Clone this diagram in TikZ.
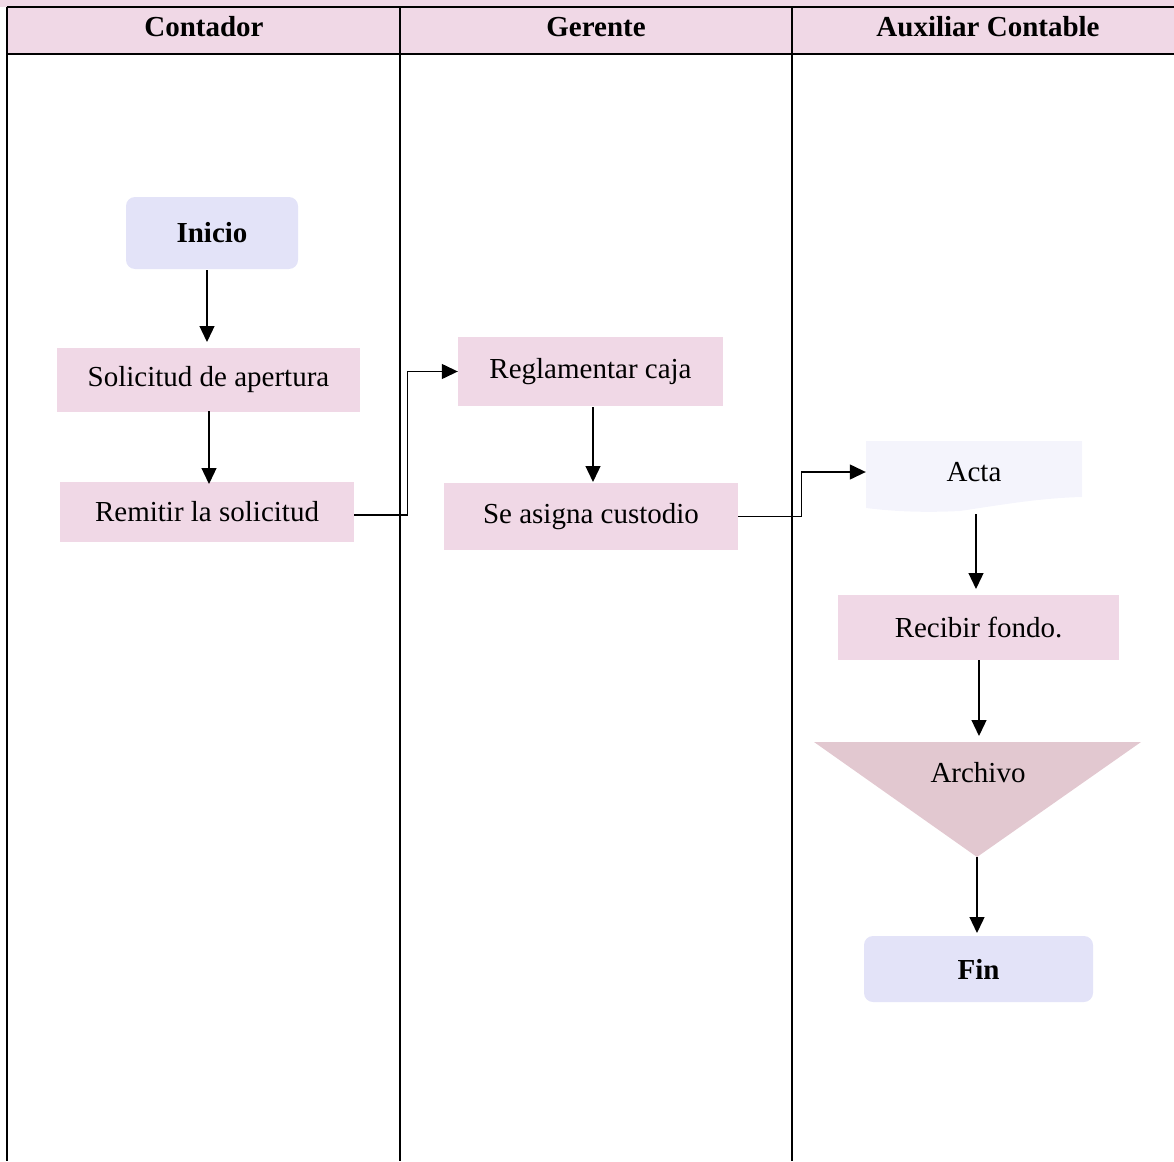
\documentclass[tikz,border=0pt]{standalone}
\usepackage{fontspec}
\setmainfont{Liberation Serif}
\usetikzlibrary{arrows.meta}
\definecolor{headpink}{RGB}{240,216,230}
\definecolor{boxpink}{RGB}{240,216,230}
\definecolor{termlav}{RGB}{227,227,248}
\definecolor{doclav}{RGB}{244,244,252}
\definecolor{storepink}{RGB}{226,200,208}
\tikzset{
  lane/.style={line width=2.6pt,black},
  flow/.style={line width=1.3pt,black,-{Triangle[length=16pt,width=15pt]}},
  procbox/.style={fill=boxpink,draw=none,inner sep=0pt,align=center},
  termbox/.style={fill=termlav,draw=none,rounded corners=9pt,inner sep=0pt,font=\bfseries},
  headtext/.style={font=\bfseries},
  plain/.style={inner sep=0pt}
}
\begin{document}
\fontsize{29}{34}\selectfont
\begin{tikzpicture}[x=1pt,y=-1pt]
\useasboundingbox (0,0) rectangle (1174,1161);
% header band
\fill[headpink] (0,0) rectangle (1174,7);
\fill[headpink] (7,7) rectangle (1174,54);
\node[headtext] (hcont) at (204,27) {Contador};
\node[headtext] (hger) at (596,27) {Gerente};
\node[headtext] (haux) at (988,27) {Auxiliar Contable};
% swimlane lines
\draw[lane] (7,7) -- (1174,7);
\draw[lane] (7,54) -- (1174,54);
\draw[lane] (7,7) -- (7,1161);
\draw[lane] (400,7) -- (400,1161);
\draw[lane] (792,7) -- (792,1161);

% Contador lane
\node[termbox,minimum width=172pt,minimum height=72pt] (inicio) at (212,233) {Inicio};
\node[procbox,minimum width=303pt,minimum height=64pt] (solicitud) at (208.5,380) {Solicitud de apertura};
\node[procbox,minimum width=294pt,minimum height=60pt] (remitir) at (207,512) {Remitir la solicitud};

% Gerente lane
\node[procbox,minimum width=265pt,minimum height=69pt] (reglamentar) at (590.5,371.5) {Reglamentar caja};
\node[procbox,minimum width=294pt,minimum height=67pt] (custodio) at (591,516.5) {Se asigna custodio};

% Auxiliar Contable lane: document shape
\fill[doclav] (866,441) -- (1082,441) -- (1082,497)
  .. controls (1040,498) and (1000,505) .. (960,511)
  .. controls (920,513) and (890,511) .. (866,508) -- cycle;
\node[plain,minimum width=216pt,minimum height=62pt] (acta) at (974,472) {Acta};
\coordinate (actabot) at (976,514);

\node[procbox,minimum width=281pt,minimum height=65pt] (recibir) at (978.5,627.5) {Recibir fondo.};

% storage triangle
\fill[storepink] (814,742) -- (1141,742) -- (977,857) -- cycle;
\node[plain] (archivo) at (978,773) {Archivo};
\coordinate (archapex) at (977,857);

\node[termbox,minimum width=229pt,minimum height=66pt] (fin) at (978.5,969) {Fin};

% connectors
\draw[flow] (207,270) -- (207,342);
\draw[flow] (209,411) -- (209,484);
\draw[flow] ([yshift=-3pt]remitir.east) -- ++(53,0) |- (reglamentar.west);
\draw[flow] (593,407) -- (593,482);
\draw[flow] (custodio.east) -- ++(63,0) |- (acta.west);
\draw[flow] (actabot) -- (976,589);
\draw[flow] (979,660) -- (979,736);
\draw[flow] (archapex) -- (977,933);
\end{tikzpicture}
\end{document}
